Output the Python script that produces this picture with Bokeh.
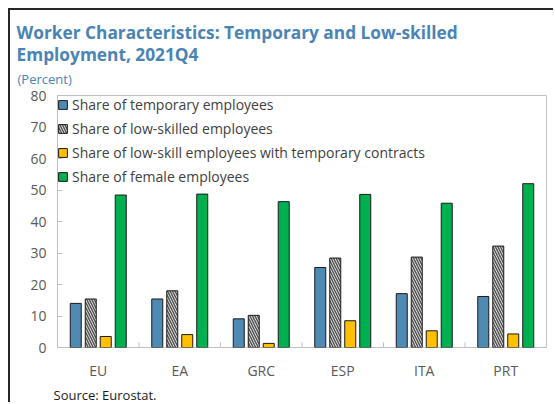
from bokeh.plotting import figure
from bokeh.models import (ColumnDataSource, FactorRange, Range1d, Title, Legend,
                          LegendItem, FixedTicker)
from bokeh.transform import dodge
from bokeh.embed import file_html
from bokeh.resources import INLINE

# ---- data ----
countries = ["EU", "EA", "GRC", "ESP", "ITA", "PRT"]
temporary = [14.0, 15.4, 9.1, 25.4, 17.1, 16.2]
low_skilled = [15.4, 18.0, 10.2, 28.4, 28.7, 32.2]
low_skill_temp = [3.5, 4.1, 1.3, 8.5, 5.3, 4.3]
female = [48.4, 48.7, 46.3, 48.6, 45.8, 52.0]
series_labels = [
    "Share of temporary employees",
    "Share of low-skilled employees",
    "Share of low-skill employees with temporary contracts",
    "Share of female employees",
]
y_ticks = [0, 10, 20, 30, 40, 50, 60, 70, 80]
title_lines = ["Worker Characteristics: Temporary and Low-skilled", "Employment, 2021Q4"]
subtitle = "(Percent)"
source_note = "Source: Eurostat."

FONT = "Open Sans"
TITLE_BLUE = "#4A84B5"
TEXT_GRAY = "#595959"

src = ColumnDataSource(dict(country=countries, temporary=temporary,
                            low_skilled=low_skilled, low_skill_temp=low_skill_temp,
                            female=female))

p = figure(width=545, height=394, output_backend="svg", toolbar_location=None,
           x_range=FactorRange(factors=countries, range_padding=0),
           y_range=Range1d(0, 80),
           min_border_left=47, min_border_right=9, min_border_top=85,
           min_border_bottom=55)
p.styles = {"margin-left": "8px", "margin-top": "8px",
            "border-left": "2px solid #262626", "border-top": "2px solid #262626"}

p.xgrid.grid_line_color = None
p.ygrid.grid_line_color = None
p.outline_line_color = "#BFBFBF"
p.outline_line_width = 1
p.background_fill_color = "white"
p.border_fill_color = "white"

bw = 0.135
offs = [-0.276, -0.092, 0.092, 0.276]
r1 = p.vbar(x=dodge("country", offs[0], range=p.x_range), top="temporary", width=bw,
            source=src, fill_color="#4E8AB3", line_color="#1a1a1a", line_width=1)
r2 = p.vbar(x=dodge("country", offs[1], range=p.x_range), top="low_skilled", width=bw,
            source=src, fill_color="white", line_color="#1a1a1a", line_width=1,
            hatch_pattern="left_diagonal_line", hatch_color="#555555",
            hatch_scale=5, hatch_weight=1.6)
r3 = p.vbar(x=dodge("country", offs[2], range=p.x_range), top="low_skill_temp", width=bw,
            source=src, fill_color="#FFC000", line_color="#1a1a1a", line_width=1)
r4 = p.vbar(x=dodge("country", offs[3], range=p.x_range), top="female", width=bw,
            source=src, fill_color="#00B050", line_color="#1a1a1a", line_width=1)

# category boundary ticks
bsrc = ColumnDataSource(dict(country=countries[1:], y0=[0] * 5, y1=[1.6] * 5))
p.segment(x0=dodge("country", -0.5, range=p.x_range), y0="y0",
          x1=dodge("country", -0.5, range=p.x_range), y1="y1",
          source=bsrc, line_color="#BFBFBF", line_width=1)

# axes
p.yaxis.ticker = FixedTicker(ticks=y_ticks)
p.yaxis.axis_line_color = None
p.yaxis.major_tick_in = 5
p.yaxis.major_tick_out = 0
p.yaxis.major_tick_line_color = "#BFBFBF"
p.yaxis.minor_tick_line_color = None
p.yaxis.major_label_text_font = FONT
p.yaxis.major_label_text_font_size = "14px"
p.yaxis.major_label_text_color = TEXT_GRAY
p.yaxis.major_label_standoff = 11

p.xaxis.axis_line_color = None
p.xaxis.major_tick_line_color = None
p.xaxis.major_tick_in = 0
p.xaxis.major_tick_out = 0
p.xaxis.minor_tick_line_color = None
p.xaxis.major_label_text_font = FONT
p.xaxis.major_label_text_font_size = "14px"
p.xaxis.major_label_text_color = TEXT_GRAY
p.xaxis.major_label_standoff = 13

# legend
items = [LegendItem(label=series_labels[i], renderers=[r]) for i, r in enumerate([r1, r2, r3, r4])]
legend = Legend(items=items, location="top_left", margin=0, padding=6,
                spacing=5, glyph_width=11, glyph_height=11, label_standoff=4,
                label_text_font=FONT, label_text_font_size="14px",
                label_text_color="#404040", border_line_color=None,
                background_fill_alpha=0)
p.add_layout(legend)

# titles (stacked outward from the frame: subtitle, line 2, line 1)
p.add_layout(Title(text=subtitle, align="left", offset=-40, standoff=16,
                   text_font=FONT, text_font_size="13px", text_font_style="normal",
                   text_color=TITLE_BLUE), "above")
p.add_layout(Title(text=title_lines[1], align="left", offset=-41, standoff=-13,
                   text_font=FONT, text_font_size="17.3px", text_font_style="bold",
                   text_color=TITLE_BLUE), "above")
p.add_layout(Title(text=title_lines[0], align="left", offset=-41, standoff=7,
                   text_font=FONT, text_font_size="17.3px", text_font_style="bold",
                   text_color=TITLE_BLUE), "above")
p.add_layout(Title(text=source_note, align="left", offset=-4, standoff=2,
                   text_font=FONT, text_font_size="13px", text_font_style="normal",
                   text_color="#1a1a1a"), "below")

open("out.html", "w").write(file_html(p, INLINE))
